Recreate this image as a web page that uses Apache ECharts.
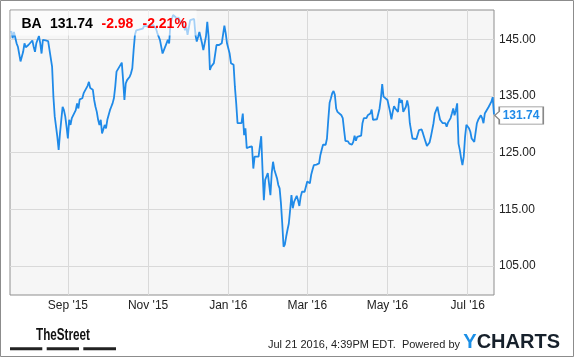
<!DOCTYPE html>
<html>
<head>
<meta charset="utf-8">
<script src="https://cdn.jsdelivr.net/npm/echarts@6/dist/echarts.min.js"></script>
<style>
html,body{margin:0;padding:0;background:#fff;}
#chart{width:575px;height:358px;}
</style>
</head>
<body>
<div id="chart"></div>
<script>
// Days counted from 1 Sep 2015
const dayOffsets = [
-43,-42,-41,-39,-38,-36,-34,-33,-32,-30,-29,-27,-26,-25,-24,-22,-21,-20,-19,-17,-15,-14,-12,-11,-10,-9,-8,-7,-6,-5,-4,-3,-2,-1,
0,1,2,3,4,6,7,8,9,10,11,12,13,15,16,17,18,19,20,21,22,23,24,25,26,28,29,30,31,32,33,34,35,36,37,39,40,41,42,43,44,45,47,48,49,
50,51,52,54,55,57,58,60,63,65,67,68,70,71,72,73,75,76,77,78,80,82,83,84,86,87,89,90,91,93,94,96,97,98,99,100,102,103,105,106,107,108,109,
111,113,114,115,117,118,119,120,121,123,124,125,126,127,128,129,130,132,133,134,135,136,137,138,140,141,142,143,145,146,147,148,149,
150,151,152,153,154,155,156,157,159,160,161,162,163,164,165,166,167,168,169,170,171,172,174,175,176,177,178,180,181,182,183,184,185,186,187,188,189,
190,191,192,193,194,196,197,198,199,200,201,202,203,204,205,206,208,209,210,211,213,214,216,217,218,219,220,221,223,224,225,227,228,
230,231,232,233,235,236,237,238,239,240,241,243,244,245,246,247,248,249,251,252,253,254,255,257,258,259,260,262,263,265,266,267,269,
270,272,273,275,276,278,279,280,281,282,283,285,286,287,288,289,291,292,293,294,295,296,297,298,299,300,301,302,303,305,306,307,309,
310,311,312,314,315,316,317,318,319,320,322,323,324
];
const prices = [
146.5,145.2,146.3,144.3,143.7,141.1,142.8,144.3,143.6,144.0,143.7,144.8,143.7,142.8,144.3,145.6,144.3,142.5,144.9,144.8,144.7,144.4,140.2,134.9,131.4,129.6,127.8,125.5,128.4,130.8,133.1,132.5,131.4,129.6,
127.5,130.8,129.9,131.1,131.1,132.5,133.7,132.8,134.4,134.6,134.6,135.5,135.8,136.8,137.5,136.4,136.1,136.1,134.3,133.1,132.2,130.8,129.9,130.8,128.4,129.9,129.3,130.8,131.1,132.5,133.1,133.7,134.6,136.6,139.3,140.1,140.5,140.9,137.8,134.3,137.2,137.8,138.4,139.0,139.9,
143.1,145.8,146.6,146.7,146.6,146.9,147.4,147.3,147.4,147.5,146.9,146.1,144.9,144.6,142.5,143.1,144.3,144.9,144.3,147.8,149.3,148.9,148.4,148.9,147.8,148.4,146.6,147.2,145.8,148.4,148.4,148.6,145.8,144.6,145.4,146.3,144.3,143.1,145.5,148.1,145.5,139.6,140.2,
140.8,144.0,143.7,144.0,144.3,144.6,147.4,146.1,144.3,142.5,140.8,141.1,140.5,136.6,133.7,130.2,130.0,130.2,131.9,128.1,129.3,125.8,125.8,126.0,126.1,122.2,124.3,124.6,124.3,124.0,127.9,122.0,116.6,
120.2,120.8,121.4,121.5,117.5,121.4,123.4,122.0,120.5,119.3,118.7,116.1,112.5,108.4,108.8,110.2,111.4,112.5,114.9,117.5,115.2,116.3,117.4,116.6,115.6,117.2,118.1,118.1,117.9,119.9,119.6,119.6,121.1,122.0,122.8,122.5,122.9,
122.6,123.1,124.6,125.5,126.4,126.4,127.5,130.8,133.8,134.6,135.5,135.9,135.2,132.8,132.2,132.0,131.6,131.1,129.0,127.1,127.0,126.6,126.4,126.9,128.0,127.1,127.8,127.8,128.0,130.2,131.1,131.1,131.6,
131.9,132.6,130.8,131.1,130.9,130.8,132.8,134.6,137.1,134.9,134.6,134.3,134.0,132.2,130.9,132.2,133.2,132.8,132.2,134.6,133.8,134.3,132.2,133.1,134.2,133.1,130.2,127.5,127.4,127.4,127.5,129.0,129.1,
128.4,126.9,126.2,126.8,127.8,130.2,131.9,131.9,133.1,131.9,130.8,130.2,130.5,130.2,129.6,130.3,131.1,131.9,132.8,131.6,132.5,133.7,126.6,125.5,124.0,122.8,124.3,127.8,129.9,129.3,128.7,127.5,126.9,
126.9,130.2,130.8,131.6,131.1,130.2,131.9,132.3,132.6,133.1,134.0,134.8,131.74
];
const xTickDays = [0, 61, 122, 182, 243, 304];
const xTickLabels = ["Sep '15", "Nov '15", "Jan '16", "Mar '16", "May '16", "Jul '16"];
const yTicks = [105, 115, 125, 135, 145];
const ticker = 'BA';
const lastPrice = '131.74';
const change = '-2.98';
const changePct = '-2.21%';
const stamp = 'Jul 21 2016, 4:39PM EDT.  Powered by';

const FONT = "'Liberation Sans', Arial, sans-serif";
const BLUE = '#1f8ae8';
const chart = echarts.init(document.getElementById('chart'), null, {renderer: 'canvas'});
const seriesData = dayOffsets.map((d, i) => [d, prices[i]]);
const last = seriesData[seriesData.length - 1];

chart.setOption({
  animation: false,
  backgroundColor: '#fff',
  grid: {
    left: 10, top: 10, width: 484, height: 285,
    containLabel: false, outerBoundsMode: 'none',
    show: true, backgroundColor: '#f6f6f6', borderColor: '#8e8e8e', borderWidth: 1
  },
  xAxis: {
    type: 'value', min: -44, max: 324,
    axisLine: {show: false},
    axisTick: {show: false, customValues: xTickDays},
    splitLine: {show: true, lineStyle: {color: '#d9d9d9', width: 1}},
    axisLabel: {
      customValues: xTickDays, margin: 5, color: '#222', fontSize: 12, fontFamily: FONT,
      formatter: v => { const k = xTickDays.indexOf(v); return k >= 0 ? xTickLabels[k] : ''; }
    }
  },
  yAxis: {
    type: 'value', position: 'right', min: 99.88, max: 150.18, scale: true,
    axisLine: {show: false},
    axisTick: {show: false, customValues: yTicks},
    splitLine: {show: true, lineStyle: {color: '#d9d9d9', width: 1}},
    axisLabel: {
      customValues: yTicks, margin: 5, color: '#222', fontSize: 12, fontFamily: FONT,
      formatter: v => v.toFixed(2)
    }
  },
  series: [{
    type: 'line',
    data: seriesData,
    showSymbol: false,
    lineStyle: {color: BLUE, width: 1.8},
    itemStyle: {color: BLUE},
    z: 3,
    markPoint: {
      silent: true,
      data: [{
        coord: last,
        symbol: 'path://M0,8.5 L4.5,4.5 L4.5,0 L48.5,0 L48.5,17 L4.5,17 L4.5,12.5 Z',
        symbolSize: [48.5, 17.3],
        symbolKeepAspect: false,
        symbolOffset: [25, 1],
        itemStyle: {color: '#fff', borderColor: '#888', borderWidth: 1},
        label: {
          show: true, position: 'inside', formatter: lastPrice, offset: [2, 0],
          color: BLUE, fontWeight: 'bold', fontSize: 12, fontFamily: FONT
        }
      }]
    }
  }],
  graphic: [
    {type: 'rect', z: 100, silent: true, shape: {x: 0.5, y: 0.5, width: 573, height: 356},
      style: {fill: 'none', stroke: '#8c8c8c', lineWidth: 1}},
    {type: 'rect', z: 100, silent: true, shape: {x: 10.5, y: 10.5, width: 186, height: 25},
      style: {fill: 'rgba(255,255,255,0.6)'}},
    {type: 'text', z: 101, x: 21.5, y: 24.5, style: {text: ticker, fill: '#000', font: 'bold 14px ' + FONT, verticalAlign: 'middle'}},
    {type: 'text', z: 101, x: 50, y: 24.5, style: {text: lastPrice, fill: '#000', font: 'bold 14px ' + FONT, verticalAlign: 'middle'}},
    {type: 'text', z: 101, x: 101.5, y: 24.5, style: {text: change, fill: '#f00', font: 'bold 14px ' + FONT, verticalAlign: 'middle'}},
    {type: 'text', z: 101, x: 142.5, y: 24.5, style: {text: changePct, fill: '#f00', font: 'bold 14px ' + FONT, verticalAlign: 'middle'}},
    {type: 'text', z: 101, x: 36, y: 336, scaleX: 0.73, originX: 0,
      style: {text: 'TheStreet', fill: '#111', font: 'bold 16px ' + FONT, verticalAlign: 'middle'}},
    {type: 'rect', z: 101, shape: {x: 10, y: 347.3, width: 32.3, height: 3}, style: {fill: '#222'}},
    {type: 'rect', z: 101, shape: {x: 46.7, y: 347.3, width: 32.3, height: 3}, style: {fill: '#222'}},
    {type: 'rect', z: 101, shape: {x: 83.3, y: 347.3, width: 32.7, height: 3}, style: {fill: '#222'}},
    {type: 'text', z: 101, x: 460, y: 345,
      style: {text: stamp, fill: '#222', font: '11px ' + FONT, align: 'right', verticalAlign: 'middle'}},
    {type: 'text', z: 101, x: 463.3, y: 342,
      style: {text: '{y|Y}{c|CHARTS}', verticalAlign: 'middle',
        rich: {
          y: {fill: '#1b8fe6', font: 'bold 20px ' + FONT},
          c: {fill: '#16202b', font: 'bold 20px ' + FONT}
        }}}
  ]
});
</script>
</body>
</html>
